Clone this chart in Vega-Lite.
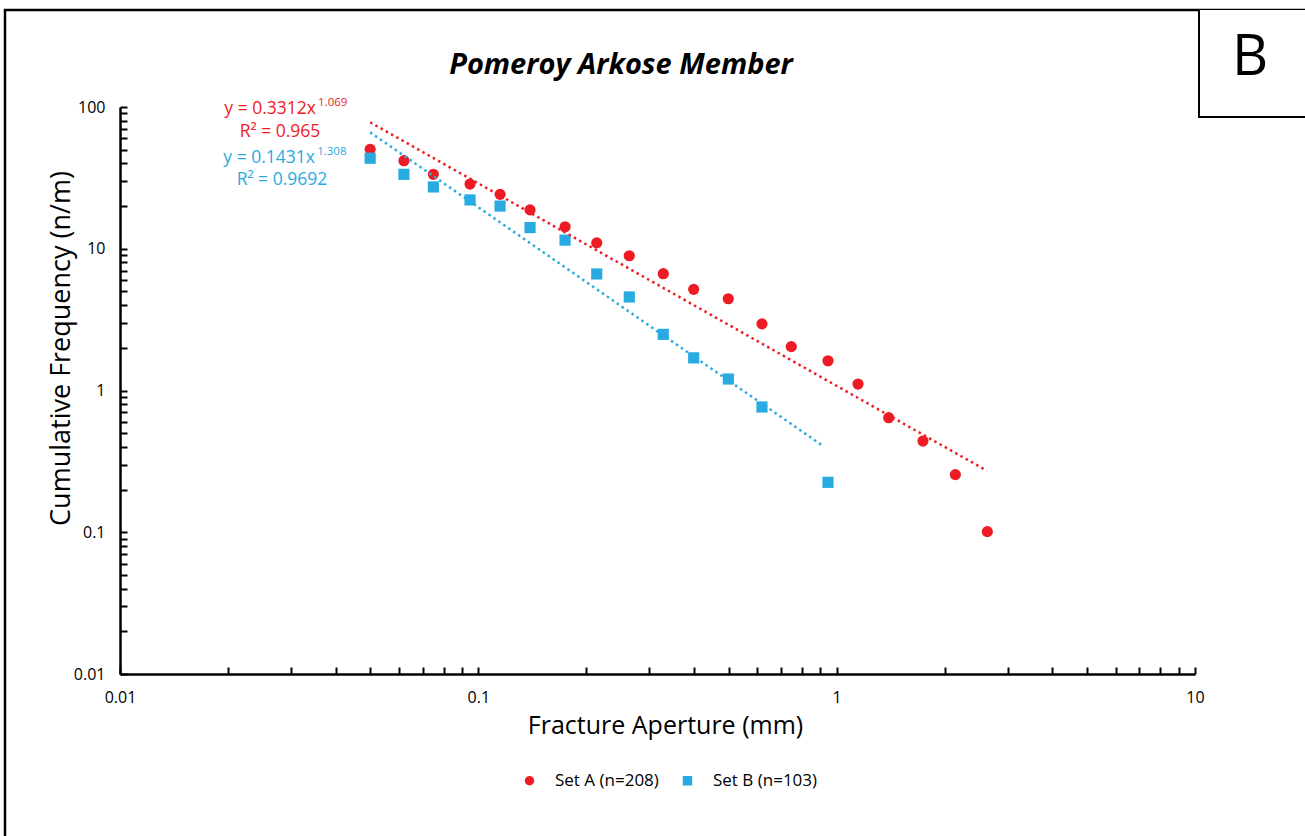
{
  "$schema": "https://vega.github.io/schema/vega-lite/v6.json",
  "autosize": {"type": "none"},
  "padding": {"left": 5, "top": 10, "right": 0, "bottom": 0},
  "width": 1302,
  "height": 830,
  "background": "white",
  "config": {
    "view": {"stroke": "black", "strokeWidth": 2.5},
    "font": "Open Sans"
  },
  "title": {
    "text": "Pomeroy Arkose Member",
    "font": "Open Sans",
    "fontSize": 29,
    "fontStyle": "italic",
    "fontWeight": "bold",
    "color": "black",
    "anchor": "middle",
    "offset": -70,
    "dx": -35
  },
  "datasets": {
    "points": [
      {"series": "Set A (n=208)", "aperture": 0.0499, "frequency": 50.3},
      {"series": "Set A (n=208)", "aperture": 0.0620, "frequency": 41.8},
      {"series": "Set A (n=208)", "aperture": 0.0749, "frequency": 33.5},
      {"series": "Set A (n=208)", "aperture": 0.0948, "frequency": 28.6},
      {"series": "Set A (n=208)", "aperture": 0.1150, "frequency": 24.2},
      {"series": "Set A (n=208)", "aperture": 0.1394, "frequency": 18.8},
      {"series": "Set A (n=208)", "aperture": 0.1746, "frequency": 14.3},
      {"series": "Set A (n=208)", "aperture": 0.2140, "frequency": 11.0},
      {"series": "Set A (n=208)", "aperture": 0.2638, "frequency": 8.93},
      {"series": "Set A (n=208)", "aperture": 0.3282, "frequency": 6.67},
      {"series": "Set A (n=208)", "aperture": 0.3990, "frequency": 5.17},
      {"series": "Set A (n=208)", "aperture": 0.4984, "frequency": 4.44},
      {"series": "Set A (n=208)", "aperture": 0.6188, "frequency": 2.95},
      {"series": "Set A (n=208)", "aperture": 0.7470, "frequency": 2.04},
      {"series": "Set A (n=208)", "aperture": 0.9458, "frequency": 1.62},
      {"series": "Set A (n=208)", "aperture": 1.147, "frequency": 1.11},
      {"series": "Set A (n=208)", "aperture": 1.397, "frequency": 0.643},
      {"series": "Set A (n=208)", "aperture": 1.741, "frequency": 0.440},
      {"series": "Set A (n=208)", "aperture": 2.144, "frequency": 0.255},
      {"series": "Set A (n=208)", "aperture": 2.633, "frequency": 0.101},
      {"series": "Set B (n=103)", "aperture": 0.0499, "frequency": 43.5},
      {"series": "Set B (n=103)", "aperture": 0.0620, "frequency": 33.5},
      {"series": "Set B (n=103)", "aperture": 0.0749, "frequency": 27.3},
      {"series": "Set B (n=103)", "aperture": 0.0948, "frequency": 22.1},
      {"series": "Set B (n=103)", "aperture": 0.1150, "frequency": 20.0},
      {"series": "Set B (n=103)", "aperture": 0.1394, "frequency": 14.1},
      {"series": "Set B (n=103)", "aperture": 0.1746, "frequency": 11.5},
      {"series": "Set B (n=103)", "aperture": 0.2140, "frequency": 6.64},
      {"series": "Set B (n=103)", "aperture": 0.2638, "frequency": 4.57},
      {"series": "Set B (n=103)", "aperture": 0.3282, "frequency": 2.49},
      {"series": "Set B (n=103)", "aperture": 0.3990, "frequency": 1.70},
      {"series": "Set B (n=103)", "aperture": 0.4984, "frequency": 1.205},
      {"series": "Set B (n=103)", "aperture": 0.6188, "frequency": 0.765},
      {"series": "Set B (n=103)", "aperture": 0.9458, "frequency": 0.225}
    ],
    "trend": [
      {"series": "A", "aperture": 0.0499, "frequency": 78.0},
      {"series": "A", "aperture": 2.623, "frequency": 0.272},
      {"series": "B", "aperture": 0.0499, "frequency": 66.3},
      {"series": "B", "aperture": 0.922, "frequency": 0.4016}
    ],
    "one": [{"item": 1}]
  },
  "layer": [
    {
      "data": {"name": "points"},
      "mark": {"type": "point", "filled": true, "size": 125, "opacity": 1},
      "encoding": {
        "x": {
          "field": "aperture",
          "type": "quantitative",
          "scale": {"type": "log", "domain": [0.01, 10], "range": [115, 1190], "nice": false},
          "axis": {
            "title": "Fracture Aperture (mm)",
            "titleFont": "Open Sans",
            "titleFontSize": 25,
            "titleFontWeight": "normal",
            "titleColor": "black",
            "titlePadding": 8,
            "titleX": 660,
            "values": [0.01, 0.02, 0.03, 0.04, 0.05, 0.06, 0.07, 0.08, 0.09, 0.1, 0.2, 0.3, 0.4, 0.5, 0.6, 0.7, 0.8, 0.9, 1, 2, 3, 4, 5, 6, 7, 8, 9, 10],
            "format": "~g",
            "labelExpr": "datum.value == 0.01 || datum.value == 0.1 || datum.value == 1 || datum.value == 10 || datum.value == 100 ? datum.label : ''",
            "labelFont": "Open Sans",
            "labelFontSize": 16,
            "labelColor": "black",
            "labelPadding": 22,
            "labelFlush": false,
            "labelOverlap": false,
            "tickSize": -7,
            "tickColor": "black",
            "tickWidth": 2,
            "domainColor": "black",
            "domainWidth": 2.5,
            "grid": false,
            "offset": -166
          }
        },
        "y": {
          "field": "frequency",
          "type": "quantitative",
          "scale": {"type": "log", "domain": [0.01, 100], "range": [664, 97], "nice": false},
          "axis": {
            "title": "Cumulative Frequency (n/m)",
            "titleFont": "Open Sans",
            "titleFontSize": 27,
            "titleFontWeight": "normal",
            "titleColor": "black",
            "titlePadding": -2,
            "titleY": 338,
            "values": [0.01, 0.02, 0.03, 0.04, 0.05, 0.06, 0.07, 0.08, 0.09, 0.1, 0.2, 0.3, 0.4, 0.5, 0.6, 0.7, 0.8, 0.9, 1, 2, 3, 4, 5, 6, 7, 8, 9, 10, 20, 30, 40, 50, 60, 70, 80, 90, 100],
            "format": "~g",
            "labelExpr": "datum.value == 0.01 || datum.value == 0.1 || datum.value == 1 || datum.value == 10 || datum.value == 100 ? datum.label : ''",
            "labelFont": "Open Sans",
            "labelFontSize": 16,
            "labelColor": "black",
            "labelPadding": 22,
            "labelFlush": false,
            "labelOverlap": false,
            "tickSize": -7,
            "tickColor": "black",
            "tickWidth": 2,
            "domainColor": "black",
            "domainWidth": 2.5,
            "grid": false,
            "offset": -115
          }
        },
        "color": {
          "field": "series",
          "type": "nominal",
          "scale": {"domain": ["Set A (n=208)", "Set B (n=103)"], "range": ["#ED1C24", "#29ABE2"]},
          "legend": {
            "orient": "none",
            "legendX": 516,
            "legendY": 762,
            "direction": "horizontal",
            "title": null,
            "labelFont": "Open Sans",
            "labelFontSize": 17,
            "labelColor": "black",
            "symbolSize": 90,
            "labelOffset": 17,
            "columnPadding": 20
          }
        },
        "shape": {
          "field": "series",
          "type": "nominal",
          "scale": {"domain": ["Set A (n=208)", "Set B (n=103)"], "range": ["circle", "square"]},
          "legend": {
            "orient": "none",
            "legendX": 516,
            "legendY": 762,
            "direction": "horizontal",
            "title": null,
            "labelFont": "Open Sans",
            "labelFontSize": 17,
            "labelColor": "black",
            "symbolSize": 90,
            "labelOffset": 17,
            "columnPadding": 20
          }
        }
      }
    },
    {
      "data": {"name": "trend"},
      "transform": [{"filter": "datum.series == 'A'"}],
      "mark": {"type": "line", "color": "#ED1C24", "strokeWidth": 2.5, "strokeDash": [2.5, 3.5]},
      "encoding": {
        "x": {"field": "aperture", "type": "quantitative"},
        "y": {"field": "frequency", "type": "quantitative"}
      }
    },
    {
      "data": {"name": "trend"},
      "transform": [{"filter": "datum.series == 'B'"}],
      "mark": {"type": "line", "color": "#29ABE2", "strokeWidth": 2.5, "strokeDash": [2.5, 3.5]},
      "encoding": {
        "x": {"field": "aperture", "type": "quantitative"},
        "y": {"field": "frequency", "type": "quantitative"}
      }
    },
    {
      "data": {"name": "one"},
      "mark": {"type": "rect", "fill": "white", "stroke": "black", "strokeWidth": 2, "clip": true},
      "encoding": {
        "x": {"datum": 10.26, "type": "quantitative"},
        "x2": {"datum": 1000},
        "y": {"datum": 85, "type": "quantitative"},
        "y2": {"datum": 1000000}
      }
    },
    {
      "data": {"name": "one"},
      "mark": {"type": "text", "text": "B", "font": "Open Sans", "fontSize": 56, "align": "center", "baseline": "middle", "color": "black"},
      "encoding": {
        "x": {"datum": 14.24, "type": "quantitative"},
        "y": {"datum": 222, "type": "quantitative"}
      }
    },
    {
      "data": {"name": "one"},
      "mark": {"type": "text", "text": "y = 0.3312x", "font": "Open Sans", "fontSize": 17.5, "align": "right", "baseline": "middle", "color": "#ED1C24"},
      "encoding": {
        "x": {"datum": 0.03524, "type": "quantitative"},
        "y": {"datum": 96.8, "type": "quantitative"}
      }
    },
    {
      "data": {"name": "one"},
      "mark": {"type": "text", "text": "1.069", "font": "Open Sans", "fontSize": 11.5, "align": "left", "baseline": "middle", "color": "#ED1C24"},
      "encoding": {
        "x": {"datum": 0.0357, "type": "quantitative"},
        "y": {"datum": 106.7, "type": "quantitative"}
      }
    },
    {
      "data": {"name": "one"},
      "mark": {"type": "text", "text": "R² = 0.965", "font": "Open Sans", "fontSize": 17.5, "align": "center", "baseline": "middle", "color": "#ED1C24"},
      "encoding": {
        "x": {"datum": 0.02796, "type": "quantitative"},
        "y": {"datum": 67.0, "type": "quantitative"}
      }
    },
    {
      "data": {"name": "one"},
      "mark": {"type": "text", "text": "y = 0.1431x", "font": "Open Sans", "fontSize": 17.5, "align": "right", "baseline": "middle", "color": "#29ABE2"},
      "encoding": {
        "x": {"datum": 0.03501, "type": "quantitative"},
        "y": {"datum": 43.7, "type": "quantitative"}
      }
    },
    {
      "data": {"name": "one"},
      "mark": {"type": "text", "text": "1.308", "font": "Open Sans", "fontSize": 11.5, "align": "left", "baseline": "middle", "color": "#29ABE2"},
      "encoding": {
        "x": {"datum": 0.0355, "type": "quantitative"},
        "y": {"datum": 48.1, "type": "quantitative"}
      }
    },
    {
      "data": {"name": "one"},
      "mark": {"type": "text", "text": "R² = 0.9692", "font": "Open Sans", "fontSize": 17.5, "align": "center", "baseline": "middle", "color": "#29ABE2"},
      "encoding": {
        "x": {"datum": 0.02832, "type": "quantitative"},
        "y": {"datum": 30.5, "type": "quantitative"}
      }
    }
  ]
}
